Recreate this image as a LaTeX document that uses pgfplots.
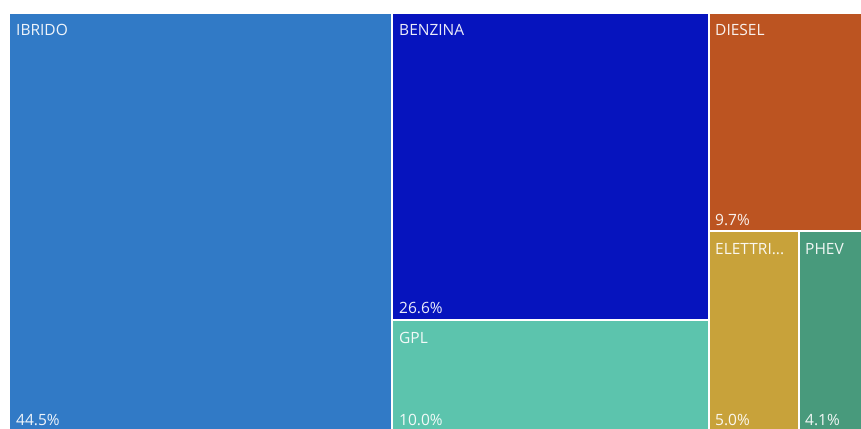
\documentclass[border=0pt]{standalone}
\usepackage{pgfplots}
\pgfplotsset{compat=1.18}
\usepackage{fontspec}
\setmainfont{Open Sans}
\definecolor{cIbr}{RGB}{49,122,198}
\definecolor{cBen}{RGB}{6,20,190}
\definecolor{cGpl}{RGB}{92,196,173}
\definecolor{cDie}{RGB}{188,84,33}
\definecolor{cEle}{RGB}{200,162,58}
\definecolor{cPhe}{RGB}{72,154,124}
\tikzset{lbl/.style={font=\fontsize{15.5}{18}\selectfont, text=white, text opacity=0.92, inner sep=0pt, anchor=base west}}
\begin{document}
\begin{tikzpicture}
\begin{axis}[
  width=861pt, height=428pt, scale only axis,
  xmin=0, xmax=861, ymin=0, ymax=428,
  y dir=reverse, hide axis, clip=true,
]
% IBRIDO 44.5%
\addplot[draw=none, fill=cIbr] coordinates {(10,14) (390.5,14) (390.5,433) (10,433)} -- cycle;
% BENZINA 26.6%
\addplot[draw=none, fill=cBen] coordinates {(392.5,14) (707.5,14) (707.5,318.5) (392.5,318.5)} -- cycle;
% GPL 10.0%
\addplot[draw=none, fill=cGpl] coordinates {(392.5,320.5) (707.5,320.5) (707.5,433) (392.5,433)} -- cycle;
% DIESEL 9.7%
\addplot[draw=none, fill=cDie] coordinates {(709.5,14) (866,14) (866,229.5) (709.5,229.5)} -- cycle;
% ELETTRICO 5.0%
\addplot[draw=none, fill=cEle] coordinates {(709.5,231.5) (797.5,231.5) (797.5,433) (709.5,433)} -- cycle;
% PHEV 4.1%
\addplot[draw=none, fill=cPhe] coordinates {(799.5,231.5) (866,231.5) (866,433) (799.5,433)} -- cycle;

\node[lbl] at (axis cs:16,36) {IBRIDO};
\node[lbl] at (axis cs:16,425) {44.5\%};
\node[lbl] at (axis cs:399,36) {BENZINA};
\node[lbl] at (axis cs:399,313) {26.6\%};
\node[lbl] at (axis cs:399,343) {GPL};
\node[lbl] at (axis cs:399,425) {10.0\%};
\node[lbl] at (axis cs:715,36) {DIESEL};
\node[lbl] at (axis cs:715,225) {9.7\%};
\node[lbl] at (axis cs:715,254) {ELETTRI...};
\node[lbl] at (axis cs:805,254) {PHEV};
\node[lbl] at (axis cs:715,425) {5.0\%};
\node[lbl] at (axis cs:805,425) {4.1\%};
\end{axis}
\pgfresetboundingbox
\useasboundingbox (current axis.south west) rectangle (current axis.north east);
\end{tikzpicture}
\end{document}
